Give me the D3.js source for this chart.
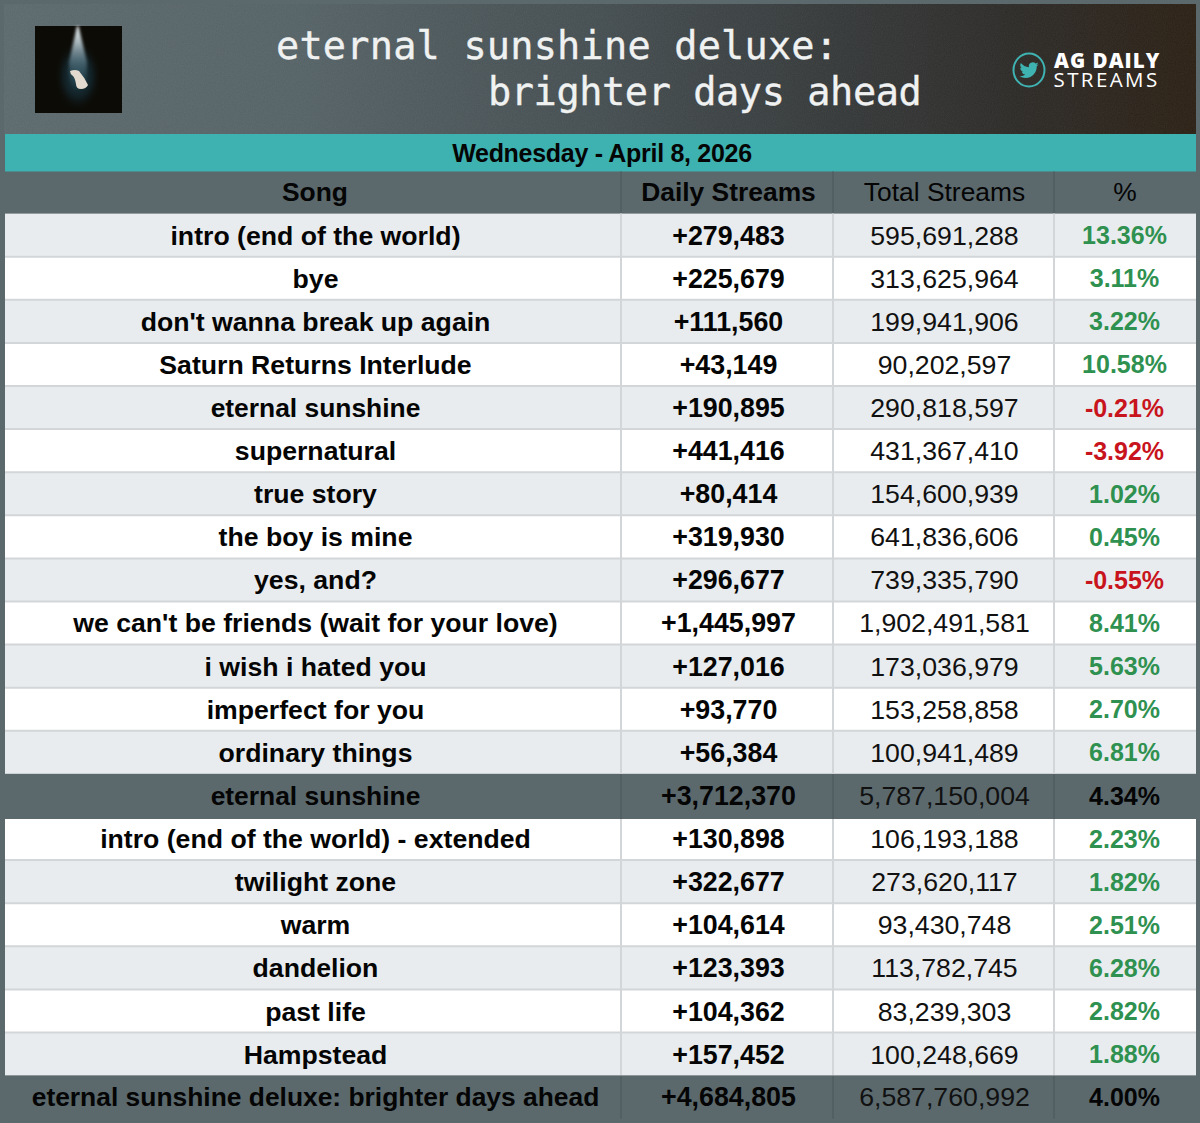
<!DOCTYPE html>
<html><head><meta charset="utf-8">
<script src="https://cdn.jsdelivr.net/npm/d3@7"></script>
<style>html,body{margin:0;padding:0;background:#5b696d}svg{display:block}</style>
</head><body><svg id="c" width="1200" height="1123"></svg>
<script>
const columns = ["Song","Daily Streams","Total Streams","%"];
const songs = ["intro (end of the world)","bye","don't wanna break up again","Saturn Returns Interlude","eternal sunshine","supernatural","true story","the boy is mine","yes, and?","we can't be friends (wait for your love)","i wish i hated you","imperfect for you","ordinary things","eternal sunshine","intro (end of the world) - extended","twilight zone","warm","dandelion","past life","Hampstead","eternal sunshine deluxe: brighter days ahead"];
const daily = [279483,225679,111560,43149,190895,441416,80414,319930,296677,1445997,127016,93770,56384,3712370,130898,322677,104614,123393,104362,157452,4684805];
const totals = [595691288,313625964,199941906,90202597,290818597,431367410,154600939,641836606,739335790,1902491581,173036979,153258858,100941489,5787150004,106193188,273620117,93430748,113782745,83239303,100248669,6587760992];
const pct = [13.36,3.11,3.22,10.58,-0.21,-3.92,1.02,0.45,-0.55,8.41,5.63,2.70,6.81,4.34,2.23,1.82,2.51,6.28,2.82,1.88,4.00];
const summaryRows = [13,20];
const titleLines = ["eternal sunshine deluxe:","brighter days ahead"];
const dateLabel = "Wednesday - April 8, 2026";
const logoLines = ["AG DAILY","STREAMS"];

const svg = d3.select("#c");
const defs = svg.append("defs");
const FONT = "'Liberation Sans',Arial,sans-serif";
const BG = "#5b696d", LEFT = 5, RIGHT = 1196;

const hg = defs.append("linearGradient").attr("id","hg");
[[0,"#5d6a6e"],[0.25,"#566367"],[0.5,"#464f52"],[0.68,"#383c3d"],[0.85,"#2e2c29"],[1,"#2d2216"]]
  .forEach(([o,c])=>hg.append("stop").attr("offset",o).attr("stop-color",c));
const noise = defs.append("filter").attr("id","noise").attr("x",0).attr("y",0).attr("width","100%").attr("height","100%");
noise.append("feTurbulence").attr("type","fractalNoise").attr("baseFrequency",0.9).attr("numOctaves",2).attr("seed",4);
noise.append("feColorMatrix").attr("values","0 0 0 0 1  0 0 0 0 1  0 0 0 0 1  0 0 0 0.28 -0.06");
const beam = defs.append("linearGradient").attr("id","beam").attr("x1",0).attr("x2",0).attr("y1",0).attr("y2",1);
[[0,"#f4f8f9",1],[0.25,"#b8c8cf",0.9],[0.55,"#5f808f",0.65],[1,"#16303a",0]]
  .forEach(([o,c,a])=>beam.append("stop").attr("offset",o).attr("stop-color",c).attr("stop-opacity",a));
const halo = defs.append("radialGradient").attr("id","halo");
[[0,"#2c5f72",.8],[0.6,"#173644",.45],[1,"#0c0b06",0]]
  .forEach(([o,c,a])=>halo.append("stop").attr("offset",o).attr("stop-color",c).attr("stop-opacity",a));
const soft = defs.append("filter").attr("id","soft").attr("x","-50%").attr("width","200%");
soft.append("feGaussianBlur").attr("stdDeviation",1.8);
const clip = defs.append("clipPath").attr("id","beamclip");
clip.append("rect").attr("x",20).attr("y",24).attr("width",120).attr("height",89);

svg.append("rect").attr("width",1200).attr("height",1123).attr("fill",BG);
// header band
svg.append("rect").attr("x",4).attr("y",4).attr("width",1192).attr("height",130).attr("fill","url(#hg)");
svg.append("rect").attr("x",4).attr("y",4).attr("width",1192).attr("height",130).attr("filter","url(#noise)").attr("opacity",.25);
// album art
const art = svg.append("g").attr("clip-path","url(#beamclip)");
art.append("rect").attr("x",35).attr("y",26).attr("width",87).attr("height",87).attr("fill","#0c0b06");
art.append("ellipse").attr("cx",78).attr("cy",76).attr("rx",24).attr("ry",36).attr("fill","url(#halo)");
art.append("path").attr("d","M77 26L78.5 26L87 62Q87 92 78 92Q69 92 69 62Z").attr("fill","url(#beam)").attr("filter","url(#soft)");
art.append("path").attr("d","M70 71Q75 69 79 71Q85 78 88 85Q86 89 81 89Q76 89 76 84Q75 78 73 76Q70 74 70 71Z").attr("fill","#e2d9cf");
// title
const title = svg.append("g").attr("font-family","'DejaVu Sans Mono',monospace").attr("font-size",38.6).attr("fill","#f0f2f2").attr("stroke","#f0f2f2").attr("stroke-width",.35);
title.append("text").attr("x",276).attr("y",59).style("letter-spacing","0.2px").text(titleLines[0]);
title.append("text").attr("x",488).attr("y",105).style("letter-spacing","-0.42px").text(titleLines[1]);
// logo
const logo = svg.append("g");
logo.append("ellipse").attr("cx",1029).attr("cy",70).attr("rx",15.5).attr("ry",16.5).attr("fill","none").attr("stroke","#3fb3b1").attr("stroke-width",2);
logo.append("path").attr("transform","translate(1019.5,60.5) scale(.8)").attr("fill","#3fb3b1")
 .attr("d","M23.953 4.57a10 10 0 01-2.825.775 4.958 4.958 0 002.163-2.723c-.951.555-2.005.959-3.127 1.184a4.92 4.92 0 00-8.384 4.482C7.69 8.095 4.067 6.13 1.64 3.162a4.822 4.822 0 00-.666 2.475c0 1.71.87 3.213 2.188 4.096a4.904 4.904 0 01-2.228-.616v.06a4.923 4.923 0 003.946 4.827 4.996 4.996 0 01-2.212.085 4.936 4.936 0 004.604 3.417 9.867 9.867 0 01-6.102 2.105c-.39 0-.779-.023-1.17-.067a13.995 13.995 0 007.557 2.209c9.053 0 13.998-7.496 13.998-13.985 0-.21 0-.42-.015-.63A9.935 9.935 0 0024 4.59z");
logo.append("text").attr("x",1054).attr("y",67.5).attr("font-family","'Open Sans',sans-serif").attr("font-weight",800).attr("font-size",20.5).attr("fill","#fff").style("letter-spacing","1.05px").text(logoLines[0]);
logo.append("text").attr("x",1053.5).attr("y",87).attr("font-family","'Open Sans',sans-serif").attr("font-weight",400).attr("font-size",20.5).attr("fill","#fff").style("letter-spacing","2.4px").text(logoLines[1]);
// date band
svg.append("rect").attr("x",LEFT).attr("y",134).attr("width",RIGHT-LEFT).attr("height",37.5).attr("fill","#3db2b0");
svg.append("text").attr("x",602).attr("y",161.5).attr("text-anchor","middle").attr("font-family",FONT).attr("font-weight",700).attr("font-size",25).attr("fill","#050505").style("letter-spacing","-0.3px").text(dateLabel);

// scales
const xEdge = d3.scaleOrdinal().domain(columns).range([LEFT,621,833,1054]);
const y = d3.scaleBand().domain(d3.range(songs.length)).range([213.6,213.6+43.1*songs.length]).padding(0);
const fDaily = d3.format("+,"), fTotal = d3.format(","), fPct = v => v.toFixed(2);

// header row
const weights = {"Song":700,"Daily Streams":700,"Total Streams":400,"%":400};
const headX = {"Song":315,"Daily Streams":728.5,"Total Streams":944.5,"%":1125};
svg.append("g").selectAll("text").data(columns).join("text")
  .attr("x",c=>headX[c]).attr("y",201).attr("text-anchor","middle")
  .attr("font-family",FONT).attr("font-size",26.4).attr("font-weight",c=>weights[c]).attr("fill","#050505").text(c=>c);
svg.append("g").selectAll("line").data(columns.slice(1)).join("line")
  .attr("x1",xEdge).attr("x2",xEdge).attr("y1",171.5).attr("y2",214).attr("stroke","#4f5c60").attr("stroke-width",1.5);

// rows
const idx = d3.range(songs.length);
const rows = svg.append("g");
const isSum = i => summaryRows.includes(i);
const rowFill = idx.map(i => {
  if (isSum(i)) return BG;
  return i<13 ? (i%2===0?"#e9ecee":"#ffffff") : (i%2===0?"#ffffff":"#e9ecee");
});
rows.selectAll("rect").data(idx).join("rect")
  .attr("x",LEFT).attr("width",RIGHT-LEFT)
  .attr("y",i=>y(i)+(i===14?2:0)).attr("height",i=>y.bandwidth()+(i===13?2:i===14?-2:0)+(i===20?3:0))
  .attr("fill",i=>rowFill[i]);
// horizontal rules
rows.selectAll("line.h").data(idx.filter(i=>!isSum(i)&&!isSum(i+1))).join("line").attr("class","h")
  .attr("x1",LEFT).attr("x2",RIGHT).attr("y1",i=>y(i)+y.bandwidth()).attr("y2",i=>y(i)+y.bandwidth())
  .attr("stroke","#d2d6d8").attr("stroke-width",2);
// vertical rules
const vg = svg.append("g");
columns.slice(1).forEach(c=>{
  vg.selectAll(null).data(idx).join("line")
    .attr("x1",xEdge(c)).attr("x2",xEdge(c))
    .attr("y1",i=>y(i)+(i===14?2:0)).attr("y2",i=>y(i)+y.bandwidth()+(i===13?2:0))
    .attr("stroke",i=>isSum(i)?"#4f5c60":"#d2d6d8").attr("stroke-width",i=>isSum(i)?1.5:2);
});
// text cells
const base = i => y(i)+y.bandwidth()/2+9.4+(i===13?0.4:i>13&&i<20?0.2:i===20?-0.4:0);
const tg = svg.append("g").attr("font-family",FONT).attr("text-anchor","middle");
tg.selectAll("text.s").data(idx).join("text").attr("class","s")
  .attr("x",315.5).attr("y",base).attr("font-size",i=>isSum(i)||i===4?26.4:26.65).attr("font-weight",700).attr("fill","#050505").text(i=>songs[i]);
tg.selectAll("text.d").data(idx).join("text").attr("class","d")
  .attr("x",728.5).attr("y",base).attr("font-size",26.8).attr("font-weight",700).attr("fill","#050505").text(i=>fDaily(daily[i]));
tg.selectAll("text.t").data(idx).join("text").attr("class","t")
  .attr("x",944.5).attr("y",base).attr("font-size",26.7).attr("font-weight",400).attr("fill","#111").text(i=>fTotal(totals[i]));
tg.selectAll("text.p").data(idx).join("text").attr("class","p")
  .attr("x",1124.5).attr("y",i=>base(i)-0.4).attr("font-size",25).attr("font-weight",700)
  .attr("fill",i=>isSum(i)?"#050505":(pct[i]<0?"#c8141c":"#2f9150")).text(i=>fPct(pct[i])+"%");
</script></body></html>
